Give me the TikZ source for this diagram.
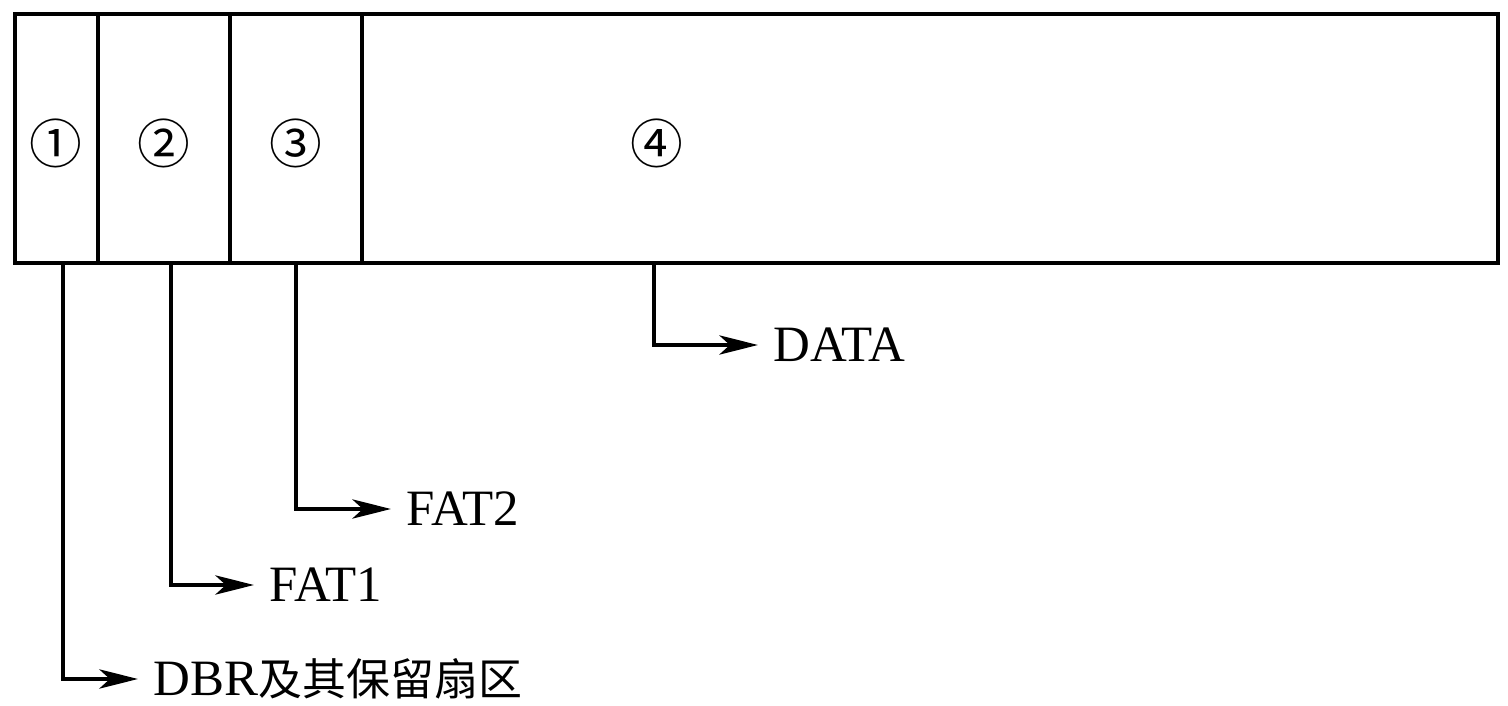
\documentclass[tikz,border=0pt]{standalone}
\usepackage{fontspec}
\setmainfont{Liberation Serif}
\newfontfamily\cjk{Noto Sans CJK SC}
\usetikzlibrary{arrows.meta, positioning, calc}

\begin{document}
\begin{tikzpicture}[x=0.02cm, y=-0.02cm, line width=2.2pt,
        every node/.style={font=\fontsize{29}{32}\selectfont},
        part/.style={font=\cjk\fontsize{30}{32}\selectfont},
        area/.style={anchor=west, inner xsep=0pt},
        leader/.style={-{Stealth[length=22pt, width=11pt, inset=6pt]}, line width=2pt, shorten >=8pt}]
        \useasboundingbox (0,0) rectangle (1508,706);

        % Define the volume bar and its dividers
        \draw (15,14) rectangle (1498,263);
        \foreach \x in {98,230,362} {
            \draw (\x,14) -- (\x,263);
        }

        % Define part numbers
        \node[part] (n1) at (56,143) {①};
        \node[part] (n2) at (164,143) {②};
        \node[part] (n3) at (296,143) {③};
        \node[part] (n4) at (657,143) {④};

        % Define leader starts on the bottom edge
        \coordinate (s1) at (63,263);
        \coordinate (s2) at (171,263);
        \coordinate (s3) at (296,263);
        \coordinate (s4) at (654,263);

        % Define area labels
        \node[area] (dbr) at (152,679) {DBR{\cjk\fontsize{25}{30}\selectfont 及其保留扇区}};
        \node[area] (fat1) at (268,585) {FAT1};
        \node[area] (fat2) at (405,509) {FAT2};
        \node[area] (data) at (772,345) {DATA};

        % Draw leaders from parts to labels
        \draw[leader] (s1) |- (dbr.west);
        \draw[leader] (s2) |- (fat1.west);
        \draw[leader] (s3) |- (fat2.west);
        \draw[leader] (s4) |- (data.west);

\end{tikzpicture}
\end{document}
